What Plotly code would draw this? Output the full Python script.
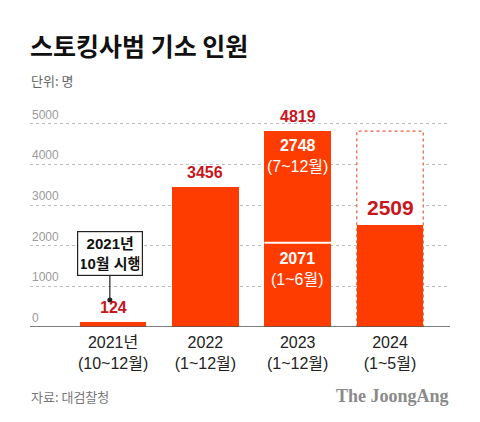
import plotly.graph_objects as go

# ---- data ----
categories = ["2021", "2022", "2023", "2024"]
tick_labels = ["2021년<br>(10~12월)", "2022<br>(1~12월)", "2023<br>(1~12월)", "2024<br>(1~5월)"]
base_values = [124, 3456, 2071, 2509]      # 2023: first half
upper_values = [0, 0, 2748, 0]             # 2023: second half
totals = [124, 3456, 4819, 2509]
total_2023 = 4819
y_ticks = [0, 1000, 2000, 3000, 4000, 5000]

W, H = 480, 422
ML, MR, MT, MB = 30, 30, 112, 95
PH = H - MT - MB
PW = W - ML - MR
YMAX = 5290
XR = [-0.9, 3.65]

def pyp(p):  # pixel y -> paper
    return (H - MB - p) / PH

def pxp(p):  # pixel x -> paper
    return (p - ML) / PW

def val_of_py(p):
    return (H - MB - p) / PH * YMAX

BAR = "#FF3C00"
RED = "#C8161D"
KFONT = "Noto Sans CJK KR"
NFONT = "Liberation Sans, Noto Sans CJK KR"

x_idx = list(range(len(categories)))
fig = go.Figure()
fig.add_trace(go.Bar(x=x_idx, y=base_values, marker=dict(color=BAR, line=dict(width=0)),
                     width=0.72, hoverinfo="skip"))
fig.add_trace(go.Bar(x=x_idx, y=upper_values, marker=dict(color=BAR, line=dict(width=0)),
                     width=0.72, hoverinfo="skip"))

shapes = []
# dashed outline for 2024 (compared with 2023 total)
shapes.append(dict(type="rect", xref="x", yref="y", x0=3 - 0.36, x1=3 + 0.36, y0=0, y1=total_2023,
                   line=dict(color="#E0603A", width=1.2, dash="dot"), fillcolor="white", layer="between"))
# separator in 2023 bar
shapes.append(dict(type="line", xref="x", yref="y", x0=2 - 0.36, x1=2 + 0.36, y0=base_values[2], y1=base_values[2],
                   line=dict(color="white", width=2), layer="above"))
# baseline
shapes.append(dict(type="line", xref="paper", yref="y", x0=0, x1=1, y0=0, y1=0,
                   line=dict(color="#555555", width=1.5), layer="above"))
# callout line
cx = -0.035
shapes.append(dict(type="line", xref="x", yref="y", x0=cx, x1=cx, y0=val_of_py(273), y1=val_of_py(300),
                   line=dict(color="#222222", width=1.2), layer="above"))
fig.add_trace(go.Scatter(x=[cx], y=[val_of_py(300)], mode="markers",
                         marker=dict(color="#222222", size=5), hoverinfo="skip"))

ann = []
# y tick labels above gridlines
for t in y_ticks:
    ann.append(dict(xref="paper", yref="y", x=0, y=t, text=str(t), showarrow=False,
                    xanchor="left", yanchor="bottom", yshift=0,
                    font=dict(family=NFONT, size=12, color="#9a9a9a")))
# total labels
for i, v in enumerate(totals):
    size = 21 if i == 3 else 16
    ann.append(dict(xref="x", yref="y", x=i, y=v, text=f"<b>{v}</b>", showarrow=False,
                    yanchor="bottom", yshift=4, font=dict(family=NFONT, size=size, color=RED)))
# inside labels 2023
ann.append(dict(xref="x", yref="y", x=2, y=total_2023, text=f"<b>{upper_values[2]}</b><br>(7~12월)",
                showarrow=False, yanchor="top", yshift=-4,
                font=dict(family=NFONT, size=16, color="white")))
ann.append(dict(xref="x", yref="y", x=2, y=base_values[2], text=f"<b>{base_values[2]}</b><br>(1~6월)",
                showarrow=False, yanchor="top", yshift=-5,
                font=dict(family=NFONT, size=16, color="white")))
# callout box
ann.append(dict(xref="x", yref="y", x=cx, y=val_of_py(253), text="<b>2021년<br>10월 시행</b>",
                showarrow=False, bgcolor="white", bordercolor="#222222", borderwidth=1.2, borderpad=3,
                width=58, font=dict(family=NFONT, size=15, color="#111111")))
# title & subtitle
ann.append(dict(xref="paper", yref="paper", x=pxp(28), y=pyp(45), text="<b>스토킹사범 기소 인원</b>",
                showarrow=False, xanchor="left", yanchor="middle",
                font=dict(family=KFONT, size=25, color="#111111")))
ann.append(dict(xref="paper", yref="paper", x=pxp(29), y=pyp(80), text="단위: 명",
                showarrow=False, xanchor="left", yanchor="middle",
                font=dict(family=KFONT, size=13, color="#666666")))
# footer
ann.append(dict(xref="paper", yref="paper", x=pxp(29), y=pyp(396), text="자료: 대검찰청",
                showarrow=False, xanchor="left", yanchor="middle",
                font=dict(family=KFONT, size=13, color="#777777")))
ann.append(dict(xref="paper", yref="paper", x=pxp(451), y=pyp(396), text="<b>The JoongAng</b>",
                showarrow=False, xanchor="right", yanchor="middle",
                font=dict(family="Liberation Serif, DejaVu Serif", size=18, color="#8a8a8a")))

fig.update_layout(
    width=W, height=H, margin=dict(l=ML, r=MR, t=MT, b=MB),
    paper_bgcolor="white", plot_bgcolor="white",
    barmode="stack", bargap=0, showlegend=False,
    shapes=shapes, annotations=ann,
    xaxis=dict(range=XR, tickvals=x_idx, ticktext=tick_labels, showgrid=False, zeroline=False,
               showline=False, ticks="", ticklabelstandoff=4,
               tickfont=dict(family=NFONT, size=16, color="#222222"),
               fixedrange=True),
    yaxis=dict(range=[0, YMAX], tickvals=y_ticks, showticklabels=False, showgrid=True,
               gridcolor="#bdbdbd", griddash="dot", gridwidth=1, zeroline=False, showline=False,
               fixedrange=True),
)

fig.write_html("out.html", config={"displayModeBar": False},
               post_script="document.body.style.margin='0';document.body.style.padding='0';")
